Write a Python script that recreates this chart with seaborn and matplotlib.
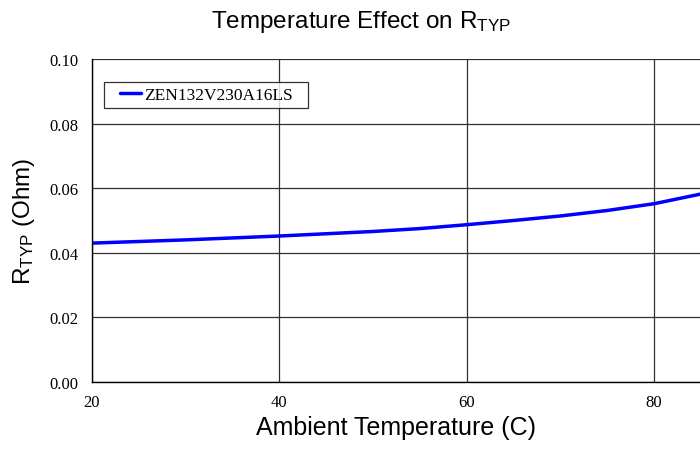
"""Temperature effect on R_TYP for ZEN132V230A16LS."""
import numpy as np
import pandas as pd
import seaborn as sns
import matplotlib
matplotlib.use("Agg")
import matplotlib.pyplot as plt

# data
temperature = [20, 25, 30, 35, 40, 45, 50, 55, 60, 65, 70, 75, 80, 85]
r_typ = [0.0430, 0.0435, 0.0440, 0.0446, 0.0452, 0.0459, 0.0466,
         0.0475, 0.0487, 0.0500, 0.0514, 0.0531, 0.0552, 0.0582]
part_name = "ZEN132V230A16LS"
x_ticks = [20, 40, 60, 80]
y_ticks = [0.00, 0.02, 0.04, 0.06, 0.08, 0.10]

df = pd.DataFrame({"temp": temperature, "r": r_typ, "part": part_name})

sns.set_style("whitegrid")
plt.rcParams["font.family"] = ["Liberation Sans", "DejaVu Sans"]
plt.rcParams["mathtext.fontset"] = "custom"
plt.rcParams["mathtext.rm"] = "Liberation Sans"
plt.rcParams["mathtext.it"] = "Liberation Sans"
for key in ["text.color", "axes.labelcolor", "xtick.color", "ytick.color"]:
    plt.rcParams[key] = "black"

fig = plt.figure(figsize=(7, 4.52), dpi=100)
ax = fig.add_axes([92 / 700, 1 - 383 / 452, 1 - 92 / 700, (383 - 60) / 452])

sns.lineplot(data=df, x="temp", y="r", hue="part", palette=["#0000FF"],
             linewidth=2.5, ax=ax)

ax.set_xlim(20, 84.9)
ax.set_ylim(0, 0.10)
ax.set_xticks(x_ticks)
ax.set_yticks(y_ticks)
ax.set_xticklabels([str(t) for t in x_ticks], family="Liberation Serif", fontsize=12)
ax.set_yticklabels([f"{v:.2f}" for v in y_ticks], family="Liberation Serif", fontsize=12)
ax.grid(True, color="#303030", linewidth=0.9)
ax.tick_params(axis="both", direction="inout", length=7, width=0.9,
               color="#333333")
ax.tick_params(axis="y", pad=6)
ax.tick_params(axis="x", pad=5)

for side in ["top", "right"]:
    ax.spines[side].set_visible(False)
for side in ["left", "bottom"]:
    ax.spines[side].set_color("#000000")
    ax.spines[side].set_linewidth(1.0)

ax.set_xlabel("Ambient Temperature (C)", fontsize=18, labelpad=4)
ax.set_ylabel(r"R$_{\mathrm{TYP}}$ (Ohm)", fontsize=17.5, labelpad=9)
fig.text(0.515, 1 - 22 / 452, r"Temperature Effect on R$_{\mathrm{TYP}}$",
         fontsize=17.5, ha="center", va="center")

leg = ax.legend(loc="upper left", bbox_to_anchor=(0.037, 0.93), frameon=True,
                fancybox=False, edgecolor="#000000", handlelength=1.2,
                handletextpad=0.2, borderpad=0.3, borderaxespad=0,
                prop={"family": "Liberation Serif", "size": 12.5})
frame = leg.get_frame()
frame.set_linewidth(0.9)
# wider side padding than top/bottom, like the original legend box
frame.set_boxstyle("square", pad=0.6)
frame.set_mutation_aspect(0.01)

fig.savefig("out.png", dpi=100)
